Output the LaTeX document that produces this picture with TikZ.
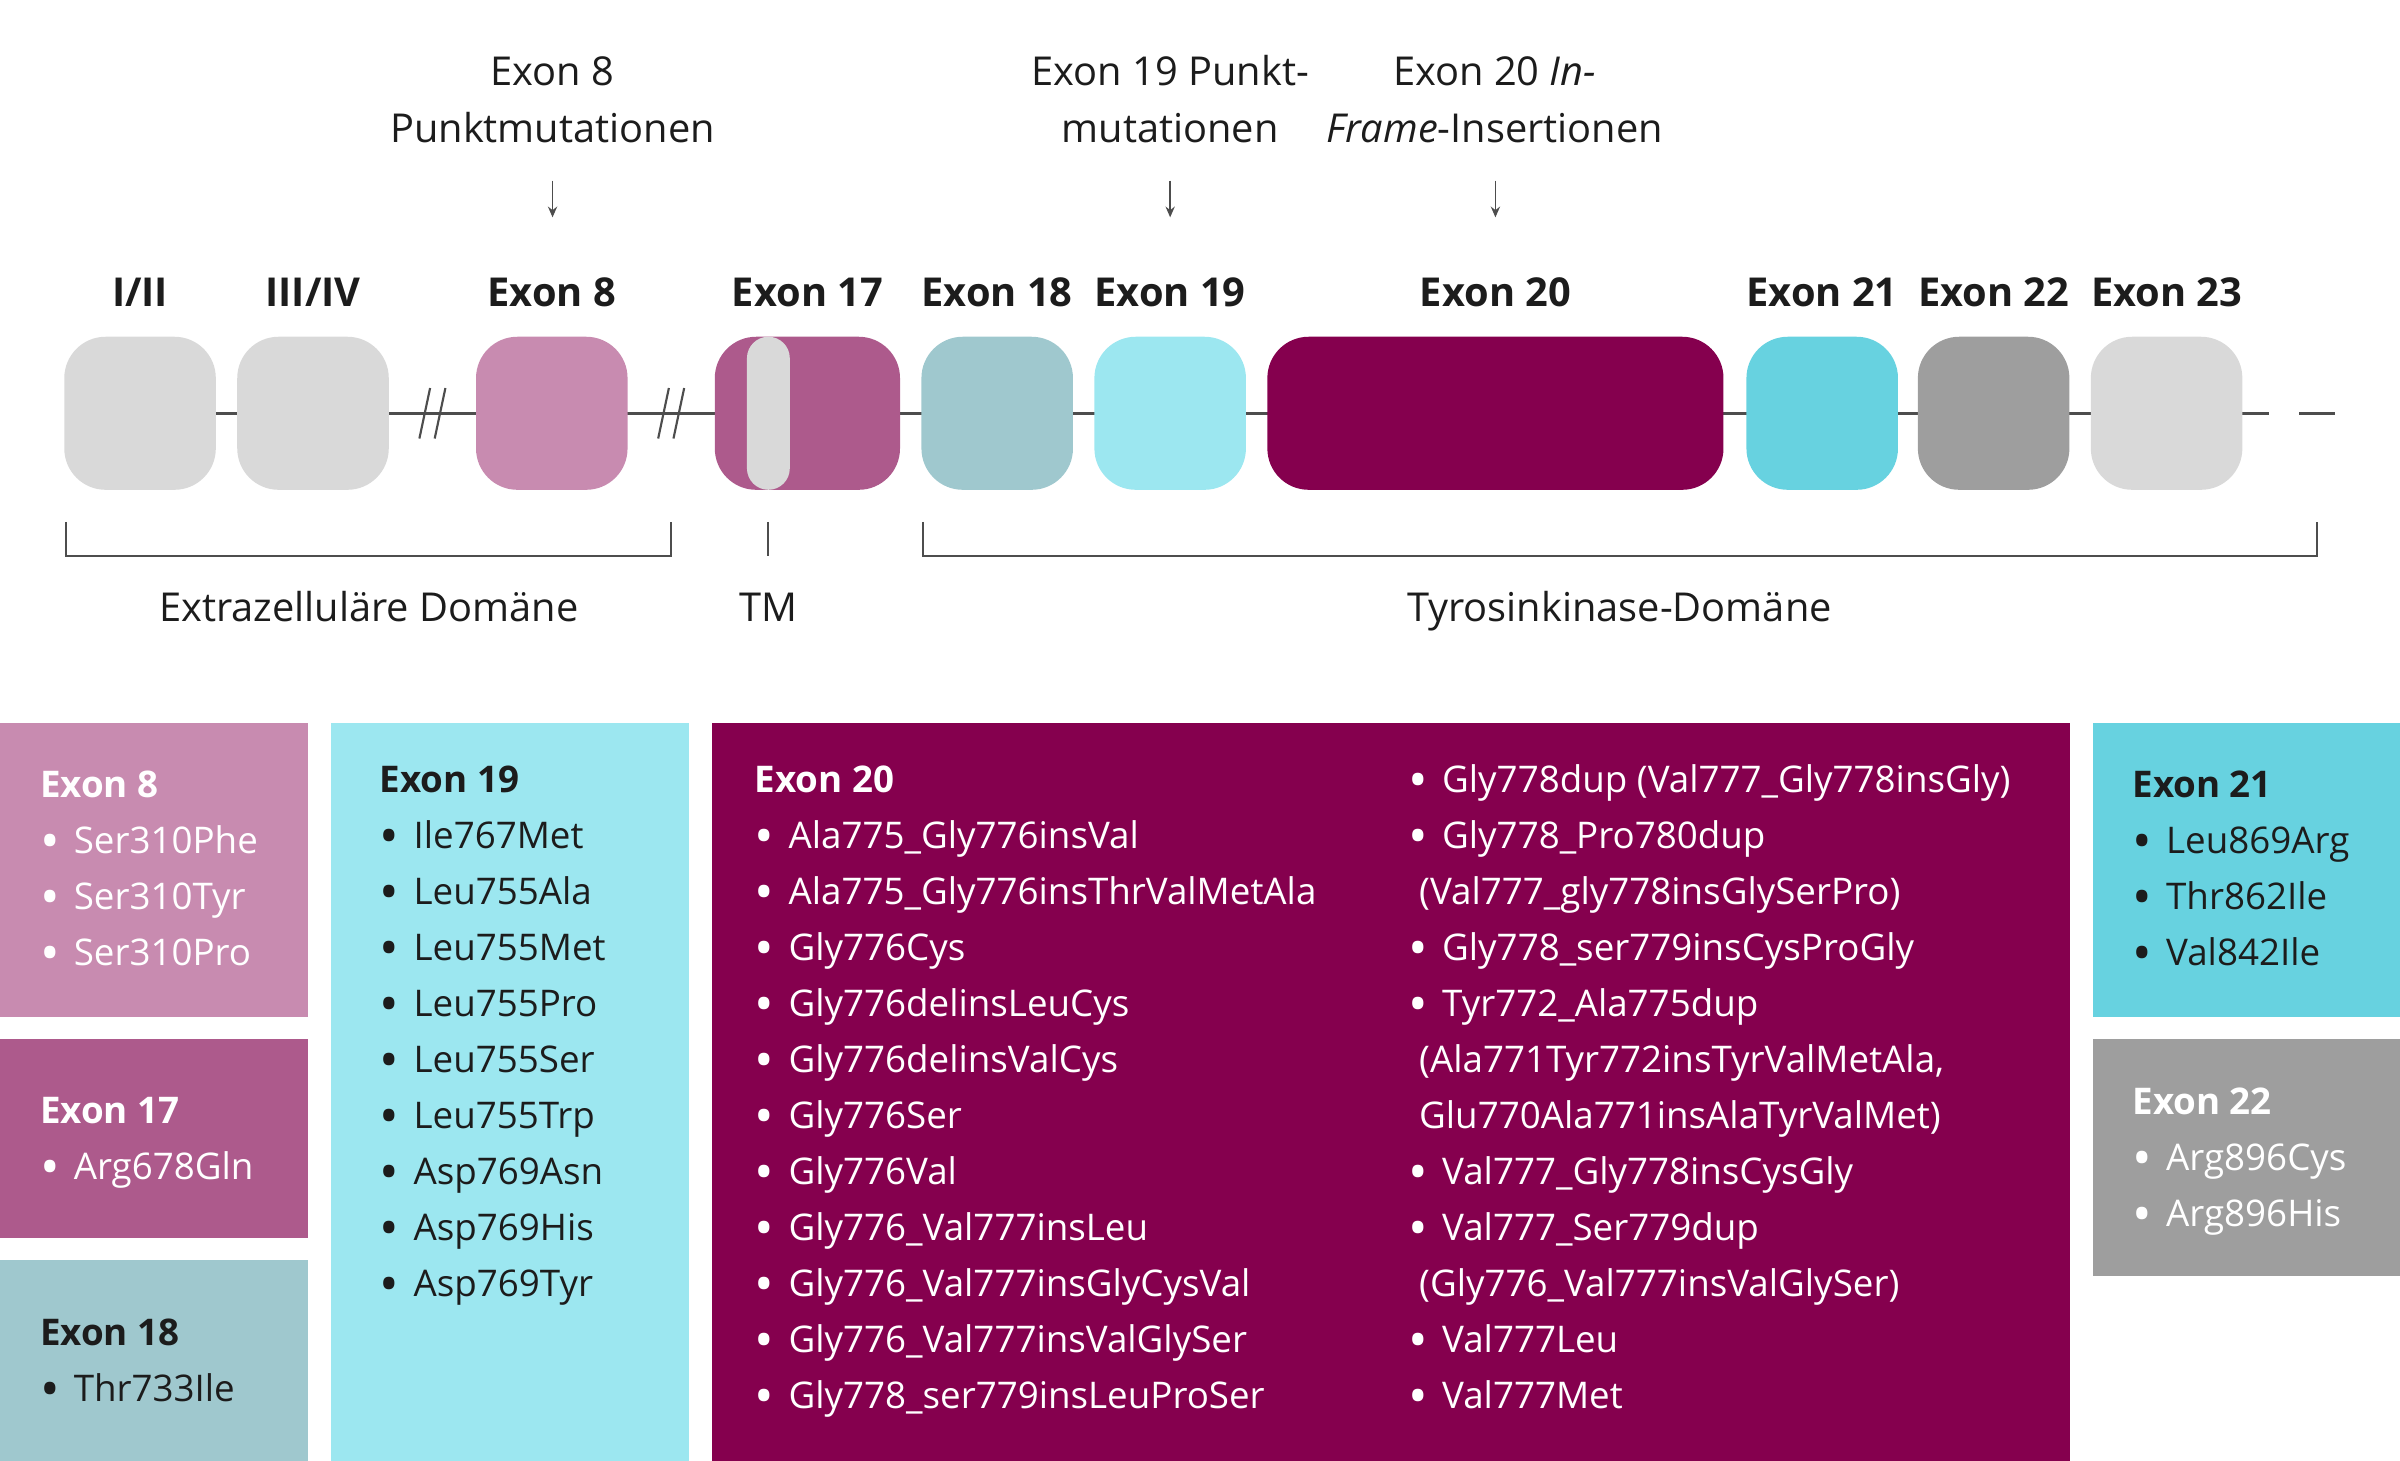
\documentclass[tikz,border=0pt]{standalone}
\usepackage{fontspec}
\setmainfont{Open Sans}
\usetikzlibrary{positioning, arrows.meta, math, backgrounds}
\definecolor{greyex}{HTML}{D9D9D9}
\definecolor{pinkex}{HTML}{C88BB0}
\definecolor{mauveex}{HTML}{AD5A8C}
\definecolor{tealex}{HTML}{9FC8CE}
\definecolor{aquaex}{HTML}{9CE7F0}
\definecolor{wineex}{HTML}{85004E}
\definecolor{cyanex}{HTML}{67D2E0}
\definecolor{darkgreyex}{HTML}{9E9E9E}
\definecolor{ink}{HTML}{1C1C1C}
\definecolor{rule}{HTML}{4D4D4D}
% bigger list bullet
\newcommand{\bul}{{\fontsize{34}{34}\selectfont\raisebox{-4pt}{•}}\ \hspace{3pt}}
\tikzset{%
  >={Stealth[width=6pt, length=7pt]}, % small heads for the mutation hints
  % rounded exon block on the gene line
  exonbox/.style={rectangle, rounded corners=27pt, minimum width=99pt, minimum height=100pt, inner sep=0pt},
  % transmembrane strip inside exon 17
  tmbox/.style={rectangle, rounded corners=14pt, minimum width=28pt, minimum height=100pt, inner sep=0pt, fill=greyex},
  % coloured boxes in the lower half
  panelbox/.style={rectangle, inner sep=0pt, anchor=north west},
  exonlbl/.style={font=\fontsize{26}{31}\selectfont\bfseries, text=ink, anchor=base},
  toplbl/.style={font=\fontsize{26}{30}\selectfont, text=ink, anchor=base},
  headlbl/.style={font=\fontsize{24}{29}\selectfont\bfseries, anchor=base west, inner sep=0pt},
  itemlbl/.style={font=\fontsize{24}{29}\selectfont, anchor=base west, inner sep=0pt},
  geneline/.style={draw=rule, line width=1.6pt},
  brackline/.style={draw=rule, line width=1.4pt},
}
\begin{document}
\begin{tikzpicture}[x=1pt, y=-1pt]
  \tikzmath{\lsep = 36.6; \ymid = 270; \btop = 472;}
  \useasboundingbox (0,0) rectangle (1568,954);

  % exons on the gene line
  \foreach \n/\cx/\w/\col/\lab in {e1/91.5/99/greyex/{I/II}, e2/204.5/99/greyex/{III/IV},
      e8/360.5/99/pinkex/Exon 8, e17/527.5/121/mauveex/Exon 17, e18/651.5/99/tealex/Exon 18,
      e19/764.5/99/aquaex/Exon 19, e20/977/298/wineex/Exon 20, e21/1190.5/99/cyanex/Exon 21,
      e22/1302.5/99/darkgreyex/Exon 22, e23/1415.5/99/greyex/Exon 23} {
    \node[exonbox, fill=\col, minimum width=\w] (\n) at (\cx,\ymid) {};
    \node[exonlbl] (l\n) at (\cx,200) {\lab};
  }
  \node[tmbox] (tm) at (502,\ymid) {};

  \begin{scope}[on background layer]
    \draw[geneline] (e1.center) -- ([xshift=17pt]e23.east);
    \draw[geneline] ([xshift=37pt]e23.east) -- ([xshift=60pt]e23.east);
  \end{scope}

  % breaks in the line
  \foreach \a/\b in {e2/e8, e8/e17} {
    \path (\a.east) -- (\b.west) coordinate[midway] (brk\a);
    \draw[brackline] ([shift={(-8.5,16.5)}]brk\a) -- ++(7,-33)
                     ([shift={(1.5,16.5)}]brk\a) -- ++(7,-33);
  }

  % domains
  \draw[brackline] (43,341) |- (438.5,363) -- (438.5,341);
  \draw[brackline] (501.5,341) -- (501.5,363);
  \draw[brackline] (603,341) |- (1514,363) -- (1514,341);
  \node[toplbl] (extra) at (241,406) {Extrazelluläre Domäne};
  \node[toplbl] (tmlbl) at (502,406) {TM};
  \node[toplbl] (tyro) at (1058,406) {Tyrosinkinase-Domäne};

  % mutation hints
  \node[toplbl] (m8a) at (361,56) {Exon 8};
  \node[toplbl] (m8b) at (361,93) {Punktmutationen};
  \node[toplbl] (m19a) at (764.5,56) {Exon 19 Punkt-};
  \node[toplbl] (m19b) at (764.5,93) {mutationen};
  \node[toplbl] (m20a) at (976.5,56) {Exon 20 \textit{In-}};
  \node[toplbl] (m20b) at (976.5,93) {\textit{Frame}-Insertionen};
  \foreach \n/\cx in {8/361, 19/764.5, 20/977} {
    \coordinate (as\n) at (\cx,118);
    \coordinate (ae\n) at (\cx,142);
    \draw[->, draw=rule, line width=1.2pt] (as\n) -- (ae\n);
  }

  % lists of mutations
  \node[panelbox, fill=pinkex, minimum width=201pt, minimum height=192pt] (p8) at (0,\btop) {};
  \node[panelbox, fill=mauveex, minimum width=201pt, minimum height=130pt] (p17) at (0,678.5) {};
  \node[panelbox, fill=tealex, minimum width=201pt, minimum height=131pt] (p18) at (0,823) {};
  \node[panelbox, fill=aquaex, minimum width=234pt, minimum height=482pt] (p19) at (216,\btop) {};
  \node[panelbox, fill=wineex, minimum width=887pt, minimum height=482pt] (p20) at (465,\btop) {};
  \node[panelbox, fill=cyanex, minimum width=201pt, minimum height=192pt] (p21) at (1367,\btop) {};
  \node[panelbox, fill=darkgreyex, minimum width=201pt, minimum height=155pt] (p22) at (1367,678.5) {};

  \foreach \pn/\x/\y/\tc/\items in {
      8/26/521/white/{Ser310Phe, Ser310Tyr, Ser310Pro},
      17/26/734/white/{Arg678Gln},
      18/26/879/ink/{Thr733Ile},
      19/248/517.5/ink/{Ile767Met, Leu755Ala, Leu755Met, Leu755Pro, Leu755Ser, Leu755Trp, Asp769Asn, Asp769His, Asp769Tyr},
      20/493/517.5/white/{Ala775\_Gly776insVal, Ala775\_Gly776insThrValMetAla, Gly776Cys, Gly776delinsLeuCys, Gly776delinsValCys, Gly776Ser, Gly776Val, Gly776\_Val777insLeu, Gly776\_Val777insGlyCysVal, Gly776\_Val777insValGlySer, Gly778\_ser779insLeuProSer},
      21/1393/521/ink/{Leu869Arg, Thr862Ile, Val842Ile},
      22/1393/728/white/{Arg896Cys, Arg896His}} {
    \node[headlbl, text=\tc] (h\pn) at (\x,\y) {Exon \pn};
    \foreach \m [count=\i] in \items
      \node[itemlbl, text=\tc] (h\pn-\i) at ({\x},{\y+\i*\lsep}) {\bul\m};
  }

  % second column of exon 20
  \foreach \b/\m [count=\i from 0] in {1/{Gly778dup (Val777\_Gly778insGly)}, 1/Gly778\_Pro780dup,
      0/{(Val777\_gly778insGlySerPro)}, 1/Gly778\_ser779insCysProGly, 1/Tyr772\_Ala775dup,
      0/{(Ala771Tyr772insTyrValMetAla,}, 0/{Glu770Ala771insAlaTyrValMet)}, 1/Val777\_Gly778insCysGly,
      1/Val777\_Ser779dup, 0/{(Gly776\_Val777insValGlySer)}, 1/Val777Leu, 1/Val777Met} {
    \node[itemlbl, text=white] (c20-\i) at ({920+7*(1-\b)},{517.5+\i*\lsep}) {\ifnum\b=1 \bul\fi\m};
  }
\end{tikzpicture}
\end{document}
